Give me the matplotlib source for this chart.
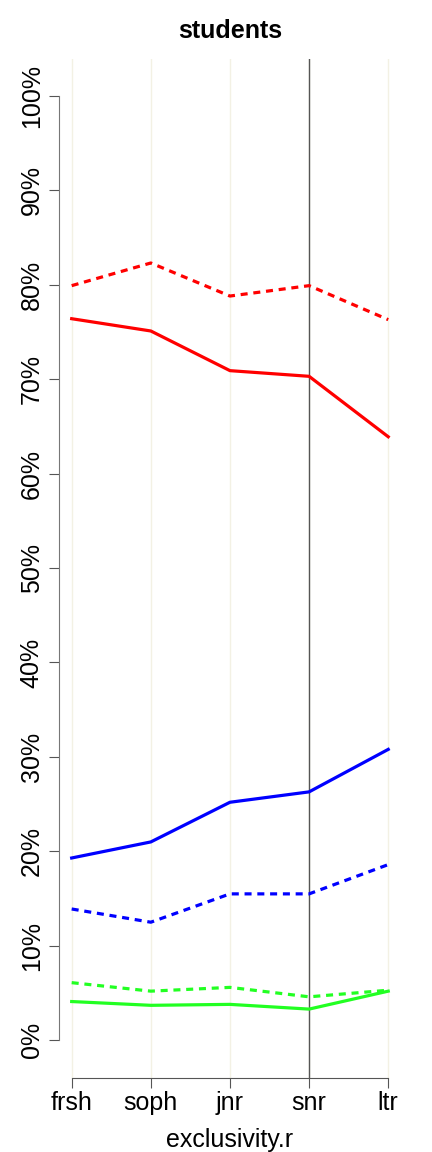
import matplotlib
matplotlib.use("Agg")
import matplotlib.pyplot as plt
import numpy as np

# class years along the x axis
years = ["frsh", "soph", "jnr", "snr", "ltr"]

# percentages
red_solid = [76.4, 75.1, 70.9, 70.3, 63.9]
red_dashed = [79.9, 82.3, 78.8, 79.9, 76.3]
blue_solid = [19.3, 21.0, 25.2, 26.3, 30.8]
blue_dashed = [13.9, 12.5, 15.5, 15.5, 18.6]
green_solid = [4.1, 3.7, 3.8, 3.3, 5.2]
green_dashed = [6.1, 5.2, 5.6, 4.6, 5.3]

y_ticks = [0, 10, 20, 30, 40, 50, 60, 70, 80, 90, 100]

plt.rcParams["font.family"] = ["Liberation Sans", "DejaVu Sans"]

fig = plt.figure(figsize=(4.32, 11.52), dpi=100)
ax = fig.add_axes([0.1366, 0.0642, 0.928 - 0.1366, 0.9488 - 0.0642])

x = np.arange(len(years))

# faint guide lines, dark one at snr
for i in range(len(years)):
    ax.axvline(i, color="#f3f1e4", lw=1, zorder=0)
ax.axvline(3, color="#555555", lw=1, zorder=1)

dash = (0, (2.2, 1.8))
ax.plot(x, red_dashed, color="red", lw=2.3, linestyle=dash, zorder=3)
ax.plot(x, red_solid, color="red", lw=2.3, zorder=3)
ax.plot(x, blue_solid, color="blue", lw=2.3, zorder=3)
ax.plot(x, blue_dashed, color="blue", lw=2.3, linestyle=dash, zorder=3)
ax.plot(x, green_dashed, color="#22ff22", lw=2.3, linestyle=dash, zorder=3)
ax.plot(x, green_solid, color="#22ff22", lw=2.3, zorder=3)

ax.set_xlim(-0.16, 4.16)
ax.set_ylim(-4, 103.9)

# R style detached axes
for s in ["top", "right"]:
    ax.spines[s].set_visible(False)
ax.spines["left"].set_bounds(0, 100)
ax.spines["bottom"].set_bounds(0, 4)
ax.spines["left"].set_color("#777777")
ax.spines["bottom"].set_color("#555555")

ax.set_yticks(y_ticks)
ax.set_yticklabels([f"{t}%" for t in y_ticks], rotation=90, va="center", fontsize=18)
ax.set_xticks(x)
ax.set_xticklabels(years, fontsize=18)
ax.tick_params(axis="y", length=7, color="#555555", pad=4)
ax.tick_params(axis="x", length=7, color="#555555", pad=2)

ax.set_xlabel("exclusivity.r", fontsize=18, labelpad=10)
ax.set_title("students", fontsize=18, fontweight="bold", pad=15)

fig.savefig("out.png", dpi=100)
